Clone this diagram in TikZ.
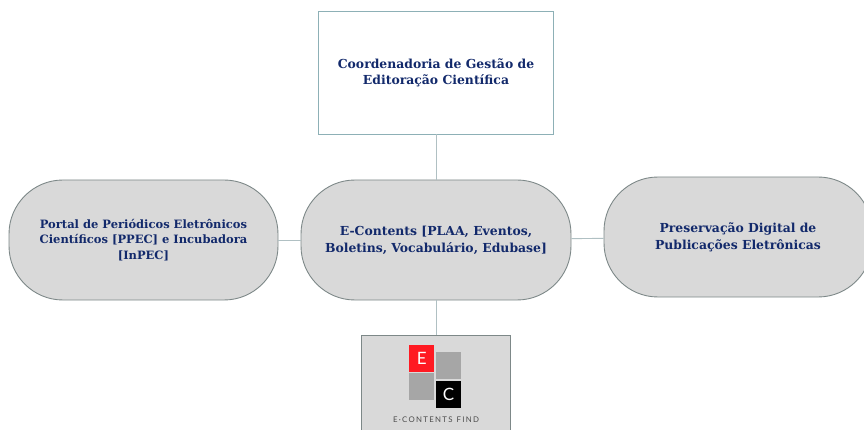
\documentclass[tikz,border=0pt]{standalone}
\usepackage{fontspec}
\setmainfont{DejaVu Serif}
\newfontfamily\logofont{Lato}
\usepackage{xcolor}
\usepackage{tikz}
\usetikzlibrary{positioning}
\definecolor{navytext}{HTML}{12296B}
\definecolor{pillgray}{HTML}{D9D9D9}
\definecolor{pilledge}{HTML}{7D8888}
\definecolor{linkline}{HTML}{B0C0C3}
\definecolor{topedge}{HTML}{8DB0B6}
\definecolor{logored}{HTML}{FF1A22}
\definecolor{logogray}{HTML}{A6A6A6}

\begin{document}
\begin{tikzpicture}[x=1pt,y=-1pt,-,
                    main node/.style={rectangle,draw=pilledge,line width=0.9pt,fill=pillgray,rounded corners=54pt,minimum width=270pt,minimum height=120pt,inner sep=0pt,align=center,font=\fontsize{12.4}{17}\selectfont\bfseries,text=navytext},
                    top node/.style={rectangle,draw=topedge,line width=0.9pt,fill=white,minimum width=235pt,minimum height=122.5pt,inner sep=0pt,align=center,font=\fontsize{12.4}{15.8}\selectfont\bfseries,text=navytext},
                    logo node/.style={rectangle,draw=pilledge,line width=0.9pt,fill=pillgray,minimum width=148.5pt,minimum height=110pt,inner sep=0pt},
                    logo square/.style={rectangle,minimum width=25.5pt,minimum height=27pt,inner sep=0pt,text=white,font=\logofont\fontsize{17}{17}\selectfont}]

  \useasboundingbox (0,0) rectangle (864,430);
  \clip (0,0) rectangle (864,430);

  \node[main node] (3) at (436,240) {E-Contents [PLAA, Eventos,\\Boletins, Vocabulário, Edubase]};
  \node[top node] (1) [shift={(0,-167.25)}] at (3) {Coordenadoria de Gestão de\\Editoração Científica};
  \node[main node,minimum width=269pt,font=\fontsize{11.5}{15.6}\selectfont\bfseries] (2) [shift={(-292.5,0)}] at (3) {Portal de Periódicos Eletrônicos\\Científicos [PPEC] e Incubadora\\{[InPEC]}};
  \node[main node,minimum width=268pt] (4) [shift={(302,-3)}] at (3) {Preservação Digital de\\Publicações Eletrônicas};
  \node[logo node] (5) [shift={(0,150)}] at (3) {};

  \node[logo square,fill=logored] (e) at (421.7,358.5) {E};
  \node[logo square,fill=logogray] (g1) at (448.5,365.5) {};
  \node[logo square,fill=logogray] (g2) at (421.7,386.5) {};
  \node[logo square,fill=black] (c) at (448.5,394) {C};
  \node[font=\logofont\fontsize{7.8}{8}\selectfont,text=black!70] (find) at (436,420) {E\,·\,C\,O\,N\,T\,E\,N\,T\,S\ \ F\,I\,N\,D};

  \path[line width=0.9pt]
  (3) edge[linkline] (1)
      edge[linkline] (2)
      edge[linkline] (4)
      edge[linkline] (5);

\end{tikzpicture}
\end{document}
